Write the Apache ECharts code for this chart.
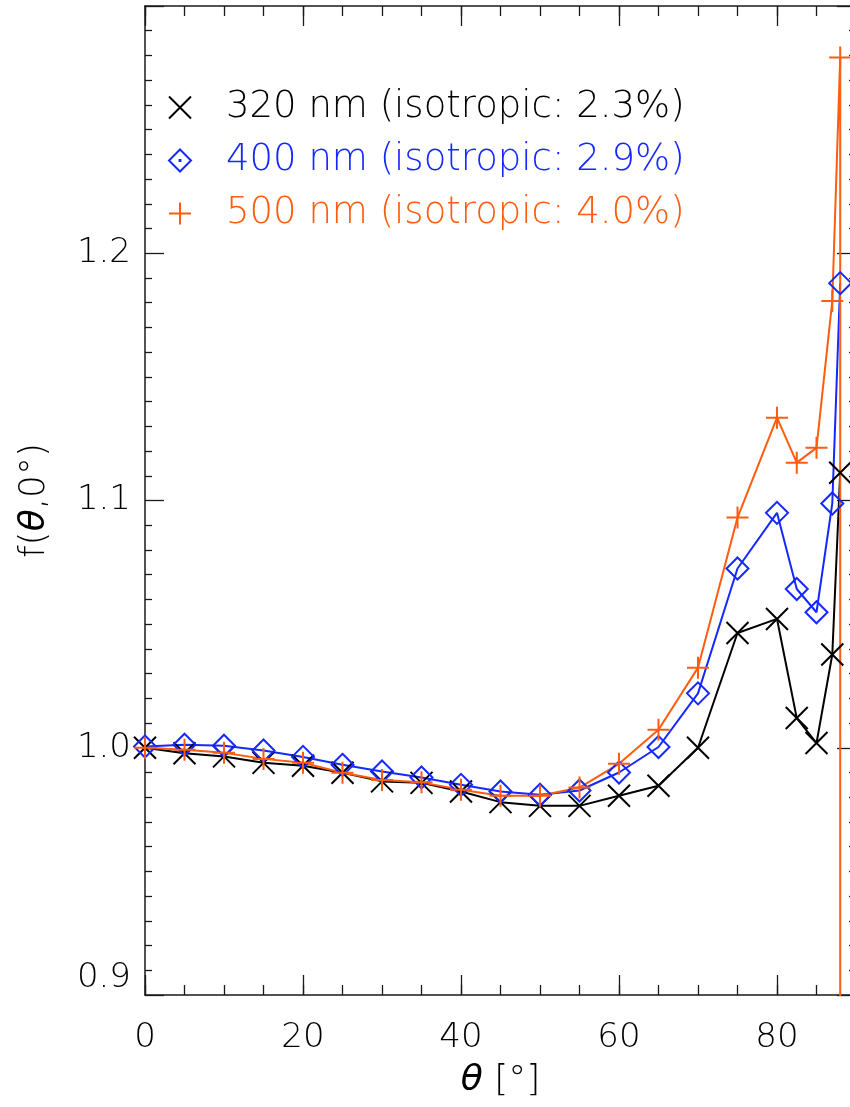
<!DOCTYPE html>
<html>
<head>
<meta charset="utf-8">
<title>f(theta, 0) vs theta</title>
<script src="https://cdn.jsdelivr.net/npm/echarts@6/dist/echarts.min.js"></script>
<style>
  html, body { margin: 0; padding: 0; background: #fff; overflow: hidden; }
  #chart { width: 856px; height: 1107px; }
</style>
</head>
<body>
<div id="chart"></div>
<script>
// === DATA ===
const theta = [0, 5, 10, 15, 20, 25, 30, 35, 40, 45, 50, 55, 60, 65, 70, 75, 80, 82.5, 85, 87, 88];

const f320 = [1.000, 0.9978, 0.9965, 0.9939, 0.9927, 0.9899, 0.9864, 0.9858, 0.9823, 0.978, 0.9765,
              0.9765, 0.9806, 0.9846, 1.000, 1.0464, 1.0521, 1.012, 1.0019, 1.0377, 1.1112];
const f400 = [1.0005, 1.0012, 1.0008, 0.9989, 0.9963, 0.9931, 0.9904, 0.988, 0.985, 0.9823, 0.981,
              0.9827, 0.990, 1.0003, 1.022, 1.0725, 1.095, 1.0642, 1.0548, 1.0988, 1.1879];
const f500 = [1.000, 0.9992, 0.998, 0.9955, 0.9939, 0.9899, 0.987, 0.986, 0.983, 0.9806, 0.9806,
              0.9839, 0.9935, 1.0073, 1.0324, 1.0931, 1.1335, 1.1153, 1.1213, 1.1807, 1.2792];
// 500 nm curve drops off the bottom of the plot right after the last point
const f500Tail = [[88, 0.80]];

const names = [
    '320 nm (isotropic: 2.3%)',
    '400 nm (isotropic: 2.9%)',
    '500 nm (isotropic: 4.0%)'
];

// === STYLE ===
const FONT = 'DejaVu Sans';
const WEIGHT = 200;
const BLACK = '#000000';
const BLUE = '#1428ff';
const ORANGE = '#ff5c0f';
const AXIS = '#1a1a1a';

const SYM_X = 'path://M0,0L10,10M10,0L0,10';
const SYM_PLUS = 'path://M5,0L5,10M0,5L10,5';
const SYM_DIAMOND = 'path://M5,0L10,5L5,10L0,5Z';
const SYM_DIAMOND_DOT = 'path://M5,0L10,5L5,10L0,5Z M4.8,4.8L5.2,4.8L5.2,5.2L4.8,5.2Z';

const ITALIC = { fontStyle: 'italic', fontFamily: FONT, fontWeight: 'normal', fontSize: 36, color: BLACK };

function pairs(xs, ys) {
    return xs.map((x, i) => [x, ys[i]]);
}

// === AXES ===
function xAxisDef(pos, interval, len, main) {
    return {
        type: 'value',
        position: pos,
        min: 0,
        max: 90,
        interval: interval,
        axisLine: { show: main, onZero: false, lineStyle: { color: AXIS, width: 1.5 } },
        axisTick: { show: true, inside: true, length: len, lineStyle: { color: AXIS, width: 1.3 } },
        axisLabel: main && pos === 'bottom' ? {
            show: true,
            color: BLACK,
            fontFamily: FONT,
            fontWeight: WEIGHT,
            fontSize: 34,
            margin: 26,
            showMaxLabel: false
        } : { show: false },
        splitLine: { show: false }
    };
}

function yAxisDef(pos, withLabels) {
    return {
        type: 'value',
        position: pos,
        min: 0.9,
        max: 1.3,
        interval: 0.1,
        axisLine: { show: true, onZero: false, lineStyle: { color: AXIS, width: 1.5 } },
        axisTick: { show: true, inside: true, length: 19, lineStyle: { color: AXIS, width: 1.3 } },
        minorTick: { show: true, splitNumber: 10, length: 7, lineStyle: { color: AXIS, width: 1.3 } },
        axisLabel: withLabels ? {
            show: true,
            color: BLACK,
            fontFamily: FONT,
            fontWeight: WEIGHT,
            fontSize: 34,
            margin: 14,
            showMaxLabel: false,
            verticalAlignMinLabel: 'bottom',
            formatter: v => v.toFixed(1)
        } : { show: false },
        splitLine: { show: false },
        minorSplitLine: { show: false }
    };
}

const xAxes = [
    xAxisDef('bottom', 20, 20, true),
    xAxisDef('bottom', 5, 10, false),
    xAxisDef('top', 20, 20, true),
    xAxisDef('top', 5, 10, false)
];
xAxes[0].name = '{i|θ} [°]';
xAxes[0].nameLocation = 'middle';
xAxes[0].nameGap = 68;
xAxes[0].nameTextStyle = {
    color: BLACK, fontFamily: FONT, fontWeight: WEIGHT, fontSize: 36,
    rich: { i: ITALIC }
};

const yAxes = [yAxisDef('left', true), yAxisDef('right', false)];
yAxes[0].name = 'f({i|θ},0°)';
yAxes[0].nameLocation = 'middle';
yAxes[0].nameGap = 92;
yAxes[0].nameTextStyle = {
    color: BLACK, fontFamily: FONT, fontWeight: WEIGHT, fontSize: 36,
    rich: { i: ITALIC }
};

// === SERIES ===
function lineSeries(name, data, color, symbol, fill) {
    return {
        name: name,
        type: 'line',
        xAxisIndex: 0,
        yAxisIndex: 0,
        data: data,
        symbol: symbol,
        symbolSize: 22,
        showSymbol: true,
        showAllSymbol: true,
        clip: true,
        lineStyle: { color: color, width: 2 },
        itemStyle: { color: fill, borderColor: color, borderWidth: 2 },
        emphasis: { disabled: true },
        z: 3
    };
}

const chart = echarts.init(document.getElementById('chart'), null, { renderer: 'canvas' });

chart.setOption({
    animation: false,
    backgroundColor: '#ffffff',
    textStyle: { fontFamily: FONT },
    grid: { left: 145, right: 0, top: 6, bottom: 112, containLabel: false, outerBoundsMode: 'none' },
    xAxis: xAxes,
    yAxis: yAxes,
    legend: {
        orient: 'vertical',
        left: 163,
        top: 84,
        itemWidth: 82,
        itemHeight: 22,
        itemGap: 16,
        selectedMode: false,
        textStyle: { fontFamily: FONT, fontWeight: WEIGHT, fontSize: 37 },
        data: [
            { name: names[0], icon: SYM_X, textStyle: { color: BLACK },
              itemStyle: { color: BLACK, borderColor: BLACK, borderWidth: 2 } },
            { name: names[1], icon: SYM_DIAMOND_DOT, textStyle: { color: BLUE },
              itemStyle: { color: 'rgba(0,0,0,0)', borderColor: BLUE, borderWidth: 2 } },
            { name: names[2], icon: SYM_PLUS, textStyle: { color: ORANGE },
              itemStyle: { color: ORANGE, borderColor: ORANGE, borderWidth: 2 } }
        ]
    },
    series: [
        lineSeries(names[0], pairs(theta, f320), BLACK, SYM_X, BLACK),
        lineSeries(names[1], pairs(theta, f400), BLUE, SYM_DIAMOND, 'rgba(0,0,0,0)'),
        lineSeries(names[2], pairs(theta, f500).concat(f500Tail), ORANGE, SYM_PLUS, ORANGE)
    ]
});
</script>
</body>
</html>
